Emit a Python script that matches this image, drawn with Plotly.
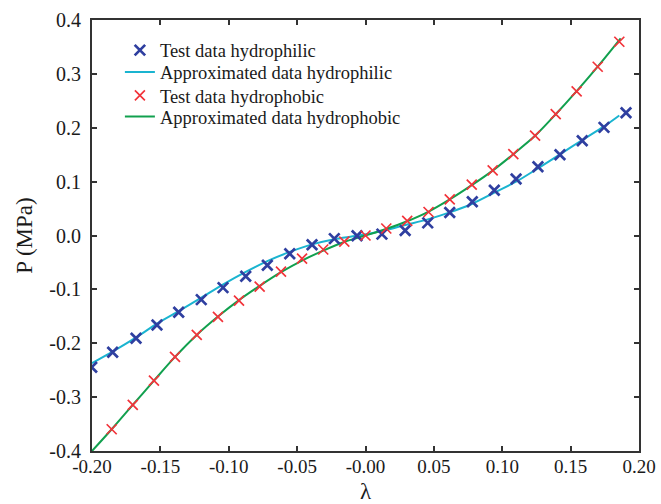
import plotly.graph_objects as go

# Test data, hydrophilic (blue crosses)
phil_x = [-0.2002, -0.1849, -0.1678, -0.1525, -0.1366, -0.1201, -0.1042, -0.0876, -0.0718,
          -0.0554, -0.0391, -0.0228, -0.0062, 0.0120, 0.0290, 0.0455, 0.0616, 0.0781,
          0.0942, 0.1101, 0.1261, 0.1422, 0.1585, 0.1744, 0.1905]
phil_y = [-0.2445, -0.2167, -0.1907, -0.1660, -0.1425, -0.1191, -0.0968, -0.0757, -0.0553,
          -0.0338, -0.0173, -0.0058, -0.0004, 0.0025, 0.0092, 0.0235, 0.0428, 0.0627,
          0.0839, 0.1048, 0.1276, 0.1499, 0.1759, 0.2007, 0.2278]

# Approximated curve, hydrophilic (cyan line)
phil_fit_x = [-0.200, -0.185, -0.168, -0.1525, -0.1366, -0.120, -0.104, -0.0876, -0.0718,
              -0.0554, -0.039, -0.0228, -0.0064, 0.0123, 0.0291, 0.0455, 0.0616, 0.0781,
              0.0942, 0.1101, 0.1261, 0.1422, 0.1585, 0.1744, 0.1856]
phil_fit_y = [-0.237, -0.2156, -0.1896, -0.1635, -0.1403, -0.1154, -0.0908, -0.0676, -0.0476,
              -0.0305, -0.0165, -0.0068, -0.0005, 0.0085, 0.0195, 0.0300, 0.0430, 0.0590,
              0.0794, 0.0998, 0.1247, 0.1506, 0.1772, 0.2025, 0.2228]

# Test data, hydrophobic (red crosses)
phob_x = [-0.1856, -0.1702, -0.1547, -0.1393, -0.1234, -0.1079, -0.0925, -0.0774, -0.0618,
          -0.0464, -0.0309, -0.0155, 0.0000, 0.0152, 0.0305, 0.0461, 0.0616, 0.0777,
          0.0930, 0.1081, 0.1240, 0.1391, 0.1544, 0.1698, 0.1856]
phob_y = [-0.3596, -0.3145, -0.2694, -0.2254, -0.1846, -0.1512, -0.1210, -0.0950, -0.0672,
          -0.0428, -0.0260, -0.0115, 0.0000, 0.0130, 0.0270, 0.0436, 0.0670, 0.0943,
          0.1210, 0.1512, 0.1852, 0.2254, 0.2675, 0.3132, 0.3596]

# Approximated curve, hydrophobic (green line)
phob_fit_x = [-0.200, -0.1856, -0.1702, -0.1547, -0.1393, -0.1234, -0.1079, -0.0925, -0.0774,
              -0.0618, -0.0464, -0.0309, -0.0155, 0.0000, 0.0155, 0.0309, 0.0462, 0.0616,
              0.0777, 0.0930, 0.1081, 0.1240, 0.1391, 0.1544, 0.1698, 0.1866]
phob_fit_y = [-0.400, -0.3596, -0.3145, -0.2694, -0.2254, -0.1846, -0.1505, -0.1200, -0.0935,
              -0.0680, -0.0465, -0.0280, -0.0120, 0.0000, 0.0125, 0.0270, 0.0445, 0.0670,
              0.0935, 0.1205, 0.1510, 0.1850, 0.2250, 0.2680, 0.3135, 0.3660]

x_tickvals = [-0.20, -0.15, -0.10, -0.05, 0.00, 0.05, 0.10, 0.15, 0.20]
x_ticktext = ["-0.20", "-0.15", "-0.10", "-0.05", "-0.00", "0.05", "0.10", "0.15", "0.20"]
y_tickvals = [-0.4, -0.3, -0.2, -0.1, 0.0, 0.1, 0.2, 0.3, 0.4]
y_ticktext = ["-0.4", "-0.3", "-0.2", "-0.1", "0.0", "0.1", "0.2", "0.3", "0.4"]

names = ["Test data hydrophilic", "Approximated data hydrophilic",
         "Test data hydrophobic", "Approximated data hydrophobic"]
x_title = "λ"
y_title = "P (MPa)"

BLUE = "#2f3fa0"
CYAN = "#1ab4d0"
RED = "#f2333a"
GREEN = "#11a04e"
FONT = "Liberation Serif"
AXC = "#333333"
TXT = "#1a1a1a"

fig = go.Figure()
fig.add_trace(go.Scatter(x=phil_fit_x, y=phil_fit_y, mode="lines", name=names[1],
                         line=dict(color=CYAN, width=2, shape="spline", smoothing=0.8),
                         legend="legend2"))
fig.add_trace(go.Scatter(x=phob_fit_x, y=phob_fit_y, mode="lines", name=names[3],
                         line=dict(color=GREEN, width=2, shape="spline", smoothing=0.8),
                         legend="legend4"))
fig.add_trace(go.Scatter(x=phil_x, y=phil_y, mode="markers", name=names[0],
                         marker=dict(symbol="x-thin", size=10.5, line=dict(color=BLUE, width=2.7)),
                         legend="legend"))
fig.add_trace(go.Scatter(x=phob_x, y=phob_y, mode="markers", name=names[2],
                         marker=dict(symbol="x-thin", size=10, line=dict(color=RED, width=1.7)),
                         legend="legend3"))

axis_common = dict(
    showgrid=False, zeroline=False, showline=True, linecolor=AXC, linewidth=2,
    mirror="ticks", ticks="inside", ticklen=5, tickwidth=1.5, tickcolor=AXC,
    automargin=False,
)

def leg(ycen):
    return dict(x=0.051, y=ycen, xanchor="left", yanchor="middle",
                bgcolor="rgba(0,0,0,0)", font=dict(family=FONT, size=18.5, color=TXT),
                itemwidth=30)

fig.update_layout(
    width=661, height=504,
    margin=dict(l=92, r=22, t=20, b=53),
    paper_bgcolor="white", plot_bgcolor="white",
    font=dict(family=FONT, color=TXT),
    showlegend=True,
    legend=leg(0.929),
    legend2=leg(0.878),
    legend3=leg(0.824),
    legend4=leg(0.775),
    xaxis=dict(range=[-0.2, 0.2], tickvals=x_tickvals, ticktext=x_ticktext,
               tickfont=dict(family=FONT, size=19, color=TXT),
               ticklabelstandoff=-3, **axis_common),
    yaxis=dict(range=[-0.4, 0.4], tickvals=y_tickvals, ticktext=y_ticktext,
               tickfont=dict(family=FONT, size=20, color=TXT),
               ticklabelstandoff=5,
               title=dict(text=y_title, font=dict(family=FONT, size=23, color=TXT), standoff=10),
               **axis_common),
    annotations=[dict(text=x_title, xref="paper", yref="paper", x=0.5, y=-0.1228,
                      xanchor="center", yanchor="bottom", showarrow=False,
                      borderpad=0, borderwidth=0,
                      font=dict(family=FONT, size=23, color=TXT))],
)

fig.write_html("out.html")
